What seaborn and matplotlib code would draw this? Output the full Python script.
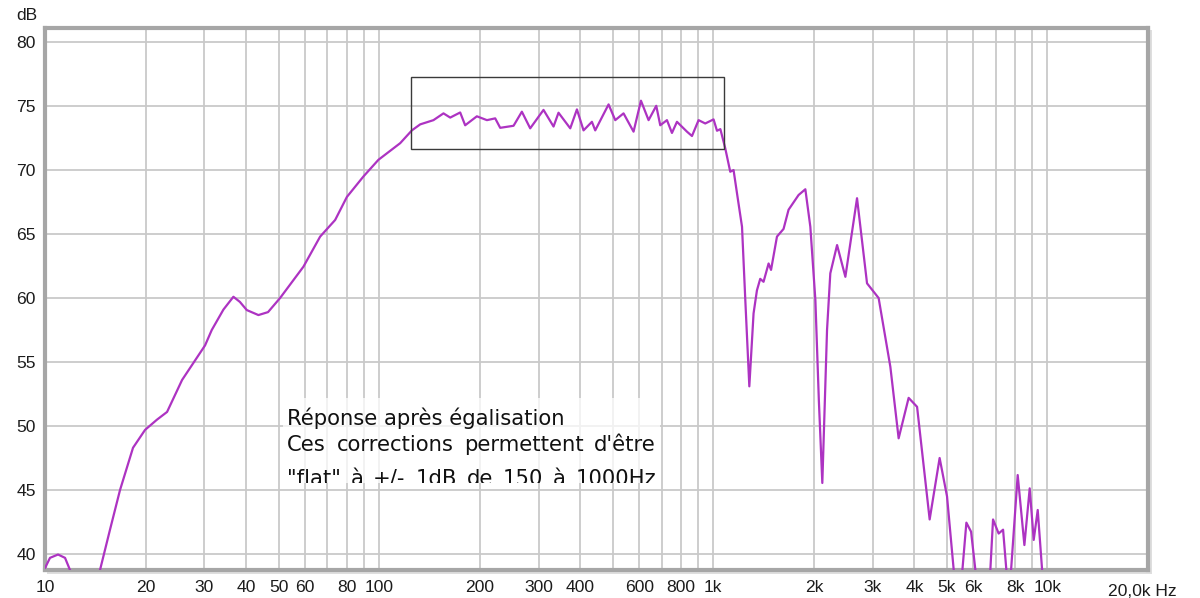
import matplotlib
matplotlib.use("Agg")
import matplotlib.pyplot as plt
import pandas as pd
import seaborn as sns
from matplotlib.patches import Rectangle
from matplotlib.transforms import IdentityTransform, Bbox

# Measured response after equalisation (frequency in Hz, level in dB)
freq_hz = [
    10.0, 10.35, 10.94, 11.48, 11.88, 13.18, 14.61, 15.65, 16.77, 18.34,
    19.93, 21.64, 23.19, 25.72, 30.13, 31.55, 34.2, 36.63, 38.3, 40.17,
    43.52, 46.5, 50.52, 59.35, 66.59, 73.85, 80.07, 89.75, 99.5, 115.6,
    125.3, 132.7, 145.4, 155.8, 163.2, 174.8, 180.9, 196.1, 210.2, 222.5,
    230.3, 252.5, 267.4, 283.2, 310.4, 332.6, 344.2, 373.2, 390.8, 409.0,
    433.3, 443.3, 486.0, 508.9, 538.8, 577.3, 607.5, 640.3, 675.1, 693.9,
    726.7, 752.2, 778.6, 834.2, 863.5, 903.7, 946.2, 1002, 1026, 1050,
    1086, 1124, 1150, 1182, 1219, 1247, 1282, 1320, 1351, 1382,
    1414, 1464, 1489, 1551, 1623, 1680, 1800, 1886, 1952, 2021,
    2070, 2120, 2190, 2240, 2347, 2485, 2693, 2885, 3125, 3388,
    3587, 3843, 4073, 4442, 4758, 5007, 5243, 5414, 5566, 5721,
    5910, 6087, 6389, 6748, 6875, 7146, 7367, 7536, 7641, 7785,
    8148, 8533, 8851, 9099, 9354, 9641, 9863,
]
level_db = [
    38.9, 39.7, 39.96, 39.7, 38.75, 36.4, 38.75, 41.9, 45.0, 48.3,
    49.7, 50.5, 51.1, 53.6, 56.3, 57.5, 59.1, 60.1, 59.7, 59.06,
    58.67, 58.9, 60.0, 62.45, 64.8, 66.1, 67.9, 69.5, 70.8, 72.1,
    73.1, 73.57, 73.9, 74.43, 74.1, 74.5, 73.5, 74.2, 73.9, 74.04,
    73.3, 73.46, 74.56, 73.26, 74.7, 73.4, 74.48, 73.26, 74.74, 73.1,
    73.77, 73.1, 75.13, 73.9, 74.43, 73.0, 75.42, 73.9, 75.02, 73.5,
    73.9, 72.9, 73.77, 73.0, 72.66, 73.9, 73.64, 73.96, 73.07, 73.2,
    71.7, 69.87, 70.0, 67.9, 65.57, 59.84, 53.1, 58.8, 60.6, 61.5,
    61.27, 62.7, 62.2, 64.8, 65.4, 66.9, 68.05, 68.5, 65.57, 59.84,
    52.0, 45.55, 57.5, 61.93, 64.14, 61.66, 67.8, 61.15, 60.0, 54.63,
    49.04, 52.2, 51.5, 42.7, 47.5, 44.5, 38.75, 37.2, 38.75, 42.45,
    41.74, 38.75, 37.2, 38.75, 42.7, 41.6, 41.9, 38.75, 37.6, 38.75,
    46.17, 40.7, 45.13, 41.1, 43.44, 38.75, 36.4,
]

x_ticks = [10, 20, 30, 40, 50, 60, 80, 100, 200, 300, 400, 600, 800,
           1000, 2000, 3000, 4000, 5000, 6000, 8000, 10000]
x_tick_labels = ["10", "20", "30", "40", "50", "60", "80", "100", "200",
                 "300", "400", "600", "800", "1k", "2k", "3k", "4k", "5k",
                 "6k", "8k", "10k"]
x_unlabelled_grid = [70, 90, 500, 700, 900, 7000, 9000]
y_ticks = [40, 45, 50, 55, 60, 65, 70, 75, 80]

# Region of the +/- 1 dB window
window_hz = (124.7, 1078.6)
window_db = (71.64, 77.27)

note_lines = [
    "Réponse après égalisation",
    "Ces corrections permettent d'être",
    "\"flat\" à +/- 1dB de 150 à 1000Hz",
]

sns.set_theme(style="white")
plt.rcParams["font.family"] = ["Liberation Sans", "DejaVu Sans"]

W, H, DPI = 1200, 598, 100
fig = plt.figure(figsize=(W / DPI, H / DPI), dpi=DPI)
fig.patch.set_facecolor("white")

# soft drop shadow of the plot frame
fig.add_artist(Rectangle((47, H - 574), 1105, 544, transform=IdentityTransform(),
                         facecolor="#dedede", edgecolor="none", zorder=-1))

ax = fig.add_axes([45 / W, 1 - 570 / H, (1148 - 45) / W, (570 - 28) / H])
ax.set_facecolor("white")

df = pd.DataFrame({"freq": freq_hz, "level": level_db})
sns.lineplot(data=df, x="freq", y="level", ax=ax, color="#ad33c2",
             linewidth=1.6, estimator=None, sort=False, zorder=3)

ax.set_xscale("log")
ax.set_xlim(10, 20000)
ax.set_ylim(38.75, 81.1)

ax.set_xticks(x_ticks)
ax.set_xticklabels(x_tick_labels)
ax.set_xticks(x_unlabelled_grid, minor=True)
ax.xaxis.set_minor_formatter(matplotlib.ticker.NullFormatter())
ax.set_yticks(y_ticks)
ax.set_yticklabels([str(v) for v in y_ticks])
ax.tick_params(axis="both", which="both", length=0, labelsize=12.6,
               labelcolor="#1c1c1c")
ax.tick_params(axis="x", pad=7)
ax.tick_params(axis="y", pad=6.5)
ax.set_xlabel("")
ax.set_ylabel("")

ax.grid(True, which="both", color="#c9c9c9", linewidth=1.3)
ax.set_axisbelow(True)
for spine in ax.spines.values():
    spine.set_color("#a6a6a6")
    spine.set_linewidth(3.0)
    spine.set_visible(True)

ax.add_patch(Rectangle((window_hz[0], window_db[0]),
                       window_hz[1] - window_hz[0], window_db[1] - window_db[0],
                       facecolor="none", edgecolor="#3a3a3a", linewidth=1.0,
                       zorder=4))

fig.text(37, H - 20, "dB", transform=IdentityTransform(), ha="right",
         va="baseline", fontsize=12.6, color="#1c1c1c")
fig.text(1177, H - 596, "20,0k Hz", transform=IdentityTransform(), ha="right",
         va="baseline", fontsize=12.6, color="#1c1c1c")

# Comment block, partly hidden at the bottom of its frame
fig.add_artist(Rectangle((283, H - 483), 377, 85, transform=IdentityTransform(),
                         facecolor="white", edgecolor="none", alpha=0.75,
                         zorder=4))
note_size = 15.2
note_left, note_right = 287, 656
note_baselines = [425, 451, 485]
clip = Bbox.from_extents(0, H - 483, W, H)
renderer = fig.canvas.get_renderer()
for i, (line, base) in enumerate(zip(note_lines, note_baselines)):
    if i == 0:
        fig.text(note_left, H - base, line, transform=IdentityTransform(),
                 fontsize=note_size, family="DejaVu Sans", ha="left",
                 va="baseline", color="#111111", zorder=5)
        continue
    words = line.split(" ")
    arts = [fig.text(0, H - base, w, transform=IdentityTransform(),
                     fontsize=note_size, family="DejaVu Sans", ha="left",
                     va="baseline", color="#111111", zorder=5) for w in words]
    widths = [a.get_window_extent(renderer).width for a in arts]
    gap = (note_right - note_left - sum(widths)) / (len(words) - 1)
    x = note_left
    for a, wd in zip(arts, widths):
        a.set_position((x, H - base))
        a.set_clip_box(clip)
        a.set_clip_on(True)
        x += wd + gap

fig.savefig("out.png", dpi=DPI)
